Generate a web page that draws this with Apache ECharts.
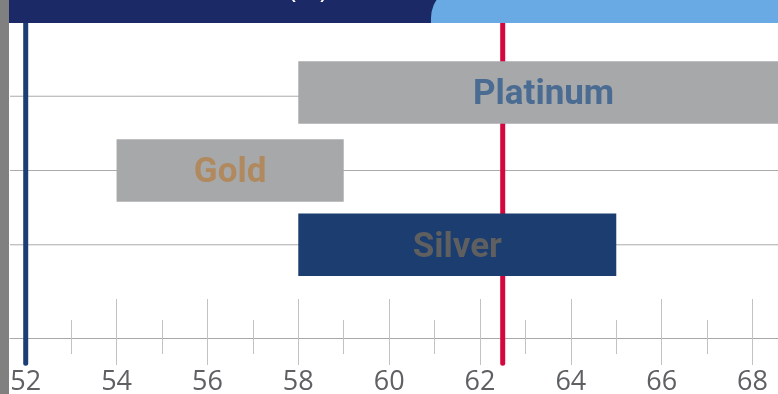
<!DOCTYPE html>
<html><head><meta charset="utf-8">
<script src="https://cdn.jsdelivr.net/npm/echarts@6/dist/echarts.min.js"></script>
<style>html,body{margin:0;padding:0;background:#fff}#c{width:778px;height:394px}</style>
</head><body><div id="c"></div>
<script>
// ---- data ----
const categories = ['Silver', 'Gold', 'Platinum'];
const rangeStart = [58, 54, 58];
const rangeEnd = [65, 59, 68.8];
const rowValue = [1, 2, 3.05];
const gridRows = [1, 2, 3];
const referenceValues = [52, 62.5];
const majorTicks = [52, 54, 56, 58, 60, 62, 64, 66, 68];
const minorTicks = [53, 55, 57, 59, 61, 63, 65, 67];
const titleText = '(%)';

// ---- styles ----
const barFill = ['#1b3d6f', '#a7a8aa', '#a7a8aa'];
const labelFill = ['#5f5f60', '#b08a5e', '#4a6b92'];
const refColors = ['#1c3e74', '#d5073f'];
const X_MIN = 51.654, X_MAX = 68.56, Y_MIN = -0.255, Y_MAX = 3.986, Y_LINE_BOTTOM = -0.594;

const chart = echarts.init(document.getElementById('c'), null, {renderer: 'canvas'});

function tickAxis(values, len, inside, showLine, showLabel) {
  return {
    type: 'value', min: X_MIN, max: X_MAX, position: 'bottom', gridIndex: 0,
    axisLine: {show: showLine, onZero: false, lineStyle: {color: '#a9a9a9', width: 1}},
    axisTick: {show: true, inside: inside, length: len, customValues: values,
      lineStyle: {color: '#c2c2c2', width: 1}},
    axisLabel: {show: showLabel, customValues: majorTicks, margin: 31,
      fontFamily: 'Open Sans', fontSize: 27, color: '#5f6063'},
    splitLine: {show: false}
  };
}

const option = {
  animation: false,
  backgroundColor: '#ffffff',
  grid: {left: 10, right: 0, top: 23, bottom: 56, containLabel: false, outerBoundsMode: 'none'},
  xAxis: [
    tickAxis(majorTicks, 27, false, true, true),
    tickAxis(majorTicks, 39, true, false, false),
    tickAxis(minorTicks, 18, true, false, false),
    tickAxis(minorTicks, 16, false, false, false)
  ],
  yAxis: {type: 'value', min: Y_MIN, max: Y_MAX, show: false},
  series: [
    {
      type: 'custom', z: 1, silent: true,
      data: gridRows.map(v => [v]),
      encode: {y: 0},
      renderItem(params, api) {
        const cs = params.coordSys;
        const y = api.coord([X_MIN, api.value(0)])[1];
        return {type: 'line', shape: {x1: cs.x, y1: y, x2: cs.x + cs.width, y2: y},
          style: {stroke: '#ababab', lineWidth: 1}};
      }
    },
    {
      type: 'custom', z: 2, silent: true, clip: false,
      data: referenceValues.map(v => [v]),
      encode: {x: 0},
      renderItem(params, api) {
        const i = params.dataIndex;
        const t = api.coord([api.value(0), Y_MAX]);
        const b = api.coord([api.value(0), Y_LINE_BOTTOM]);
        return {type: 'line', shape: {x1: t[0], y1: t[1], x2: b[0], y2: b[1]},
          style: {stroke: refColors[i], lineWidth: 5, lineCap: 'round'}};
      }
    },
    {
      type: 'custom', z: 3, silent: true,
      data: categories.map((c, i) => [rangeStart[i], rangeEnd[i], rowValue[i]]),
      encode: {x: [0, 1], y: 2},
      renderItem(params, api) {
        const i = params.dataIndex;
        const s = api.coord([api.value(0), api.value(2)]);
        const e = api.coord([api.value(1), api.value(2)]);
        const h = api.size([0, 0.84])[1];
        return {
          type: 'rect',
          shape: {x: s[0], y: s[1] - h / 2, width: e[0] - s[0], height: h},
          style: {fill: barFill[i]},
          textContent: {style: {text: categories[i], fill: labelFill[i],
            font: 'bold 35px Roboto'}},
          textConfig: {position: 'inside', offset: [0, 3]}
        };
      }
    }
  ],
  graphic: [
    {type: 'rect', z: 100, shape: {x: 0, y: 0, width: 9, height: 394}, style: {fill: '#808080'}},
    {type: 'rect', z: 100, shape: {x: 9, y: 0, width: 769, height: 23}, style: {fill: '#1b2a66'}},
    {type: 'rect', z: 101, shape: {x: 431, y: -14, width: 400, height: 37, r: [32, 0, 0, 0]}, style: {fill: '#69aae4'}},
    {type: 'text', z: 102, x: 308, y: -10, style: {text: titleText, fill: '#ffffff',
      font: '28px "Open Sans"', align: 'center', verticalAlign: 'middle'}}
  ]
};
chart.setOption(option);
</script></body></html>
